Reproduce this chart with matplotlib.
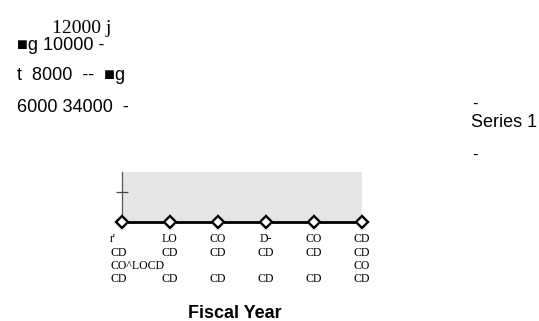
import matplotlib
matplotlib.use('Agg')
import matplotlib.pyplot as plt
import matplotlib.transforms as mtransforms

# chart data
categories = [0, 1, 2, 3, 4, 5]
series1 = [0, 0, 0, 0, 0, 0]
y_max = 5000
y_ticks = [3000]

# garbled tick label rows under the x axis
label_row1 = ["r'", "LO", "CO", "D-", "CO", "CD"]
label_row2 = ["CD", "CD", "CD", "CD", "CD", "CD"]
label_row3 = ["CO^LOCD", "", "", "", "", "CO"]
label_row4 = ["CD", "CD", "CD", "CD", "CD", "CD"]

# leftover y axis text at the top left
header_lines = ["■g 10000 -", "t  8000  --  ■g", "6000 34000  -"]
header_top = "12000 j"

W, H = 539, 321
fig = plt.figure(figsize=(W / 100, H / 100), dpi=100)


def px(x, y):
    return x / W, 1 - y / H


ax = fig.add_axes([121.7 / W, 1 - 221.7 / H, 240 / W, 50 / H])
ax.set_facecolor('#e6e6e6')
ax.plot(categories, series1, color='black', lw=2.0, marker='D', ms=6.5,
        mfc='white', mec='black', mew=1.7, clip_on=False, zorder=5)
ax.set_xlim(categories[0], categories[-1])
ax.set_ylim(0, y_max)
ax.set_yticks(y_ticks)
ax.set_yticklabels([])
ax.tick_params(axis='y', direction='inout', length=8, width=0.9, color='#444444')
ax.set_xticks([])
for s in ['top', 'right', 'bottom']:
    ax.spines[s].set_visible(False)
ax.spines['left'].set_color('#555555')
ax.spines['left'].set_linewidth(0.9)

# tick label rows
trans = mtransforms.blended_transform_factory(ax.transData, fig.transFigure)
rows = [label_row1, label_row2, label_row3, label_row4]
row_y = [242, 255.5, 269, 282.5]
for labels, yy in zip(rows, row_y):
    for i, lab in enumerate(labels):
        if not lab:
            continue
        if i == 0:
            t = mtransforms.offset_copy(trans, fig=fig, x=-11.5, y=0, units='dots')
            ax.text(categories[i], 1 - yy / H, lab, transform=t, ha='left',
                    va='baseline', fontsize=8.5, family='Liberation Serif')
        else:
            ax.text(categories[i], 1 - yy / H, lab, transform=trans, ha='center',
                    va='baseline', fontsize=8.5, family='Liberation Serif')

# top-left text fragments
fig.text(*px(52, 33), header_top, fontsize=14, family='Liberation Serif', va='baseline')
for txt, yy in zip(header_lines, [50, 80, 112]):
    fig.text(*px(17, yy), txt, fontsize=13, family='Liberation Sans', va='baseline')

# legend remains
fig.text(*px(472, 109), '-', fontsize=12, family='Liberation Sans', va='baseline')
fig.text(*px(471, 127), 'Series 1', fontsize=13, family='Liberation Sans', va='baseline')
fig.text(*px(472, 160), '-', fontsize=12, family='Liberation Sans', va='baseline')

fig.text(*px(235, 318), 'Fiscal Year', fontsize=13, fontweight='bold',
         family='Liberation Sans', ha='center', va='baseline')

fig.savefig('out.png', dpi=100)
